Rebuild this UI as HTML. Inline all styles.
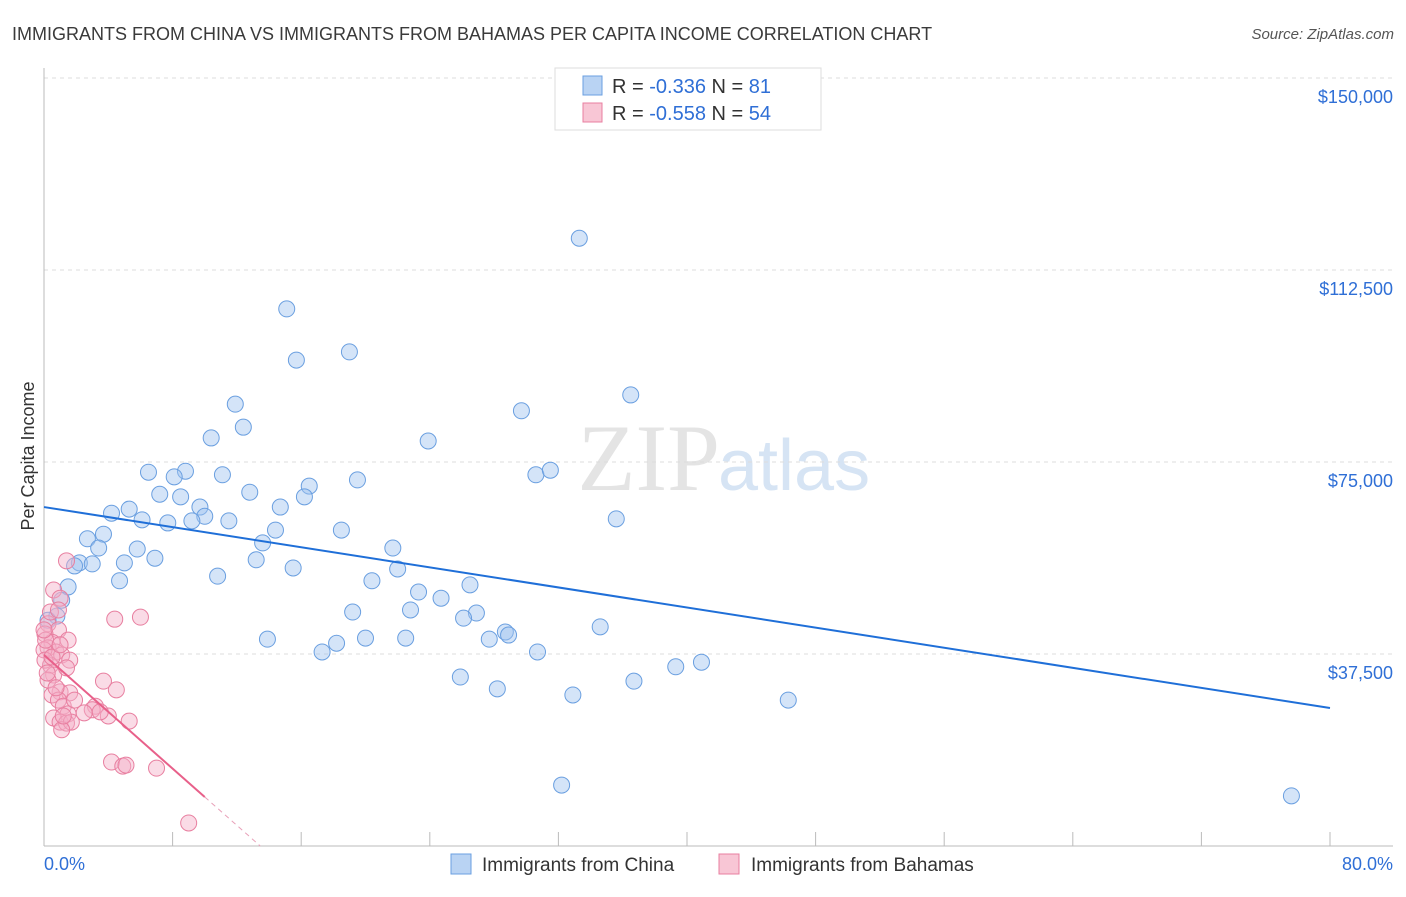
<!DOCTYPE html>
<html><head><meta charset="utf-8"><style>
body{margin:0;background:#fff;font-family:"Liberation Sans",sans-serif;}
</style></head><body>
<svg id="chart" width="1406" height="892" xmlns="http://www.w3.org/2000/svg" font-family="Liberation Sans, sans-serif">
<text x="12" y="40" font-size="18" fill="#3a3a3a">IMMIGRANTS FROM CHINA VS IMMIGRANTS FROM BAHAMAS PER CAPITA INCOME CORRELATION CHART</text>
<text x="1394" y="39" font-size="15" fill="#555" text-anchor="end" font-style="italic">Source: ZipAtlas.com</text>
<text x="720" y="490" font-size="95" fill="#e4e4e4" text-anchor="end" font-family="Liberation Serif, serif">ZIP</text>
<text x="718" y="490" font-size="72" fill="#d6e4f4">atlas</text>
<text transform="translate(34,456) rotate(-90)" font-size="18" fill="#333" text-anchor="middle">Per Capita Income</text>
<g id="grid"></g>
<g id="marks"></g>
<g>
<rect x="555" y="68" width="266" height="62" fill="#fff" stroke="#ddd"/>
<rect x="583" y="76" width="19" height="19" fill="#b9d3f3" stroke="#6a9fe0"/>
<rect x="583" y="103" width="19" height="19" fill="#f8c6d5" stroke="#e87fa0"/>
<text x="612" y="93" font-size="20" fill="#333">R = <tspan fill="#2f6fd6">-0.336</tspan>   N = <tspan fill="#2f6fd6"> 81</tspan></text>
<text x="612" y="120" font-size="20" fill="#333">R = <tspan fill="#2f6fd6">-0.558</tspan>   N = <tspan fill="#2f6fd6">54</tspan></text>
</g>
<g>
<rect x="451" y="854" width="20" height="20" fill="#b9d3f3" stroke="#6a9fe0"/>
<text x="482" y="871" font-size="19" fill="#333">Immigrants from China</text>
<rect x="719" y="854" width="20" height="20" fill="#f8c6d5" stroke="#e87fa0"/>
<text x="751" y="871" font-size="19" fill="#333">Immigrants from Bahamas</text>
</g>
</svg>
<script>
const yTicks=[37500,75000,112500,150000];
const yTickLabels=["$37,500","$75,000","$112,500","$150,000"];
const xTickLabels=["0.0%","80.0%"];
const chinaX=[33.3,15.1,19.0,15.7,36.5,11.9,29.7,12.4,10.4,23.9,6.5,8.8,8.1,11.1,19.5,30.6,31.5,16.5,12.8,7.2,8.5,16.2,9.7,5.3,4.2,14.7,10.0,6.1,9.2,7.7,11.5,35.6,14.4,18.5,3.7,2.7,13.6,3.4,5.8,21.7,6.9,13.2,2.2,3.0,5.0,1.9,15.5,22.0,10.8,4.7,20.4,26.5,1.5,23.3,1.1,24.7,22.8,19.2,26.9,26.1,0.8,34.6,28.7,28.9,27.7,13.9,18.2,20.0,22.5,30.7,17.3,40.9,39.3,25.9,36.7,28.2,32.9,46.3,32.2,77.6,0.25];
const chinaY=[118700,104900,96500,94900,88100,86300,85000,81800,79700,79100,73000,73200,72100,72500,71500,72500,73400,70300,69100,68700,68200,68200,66200,65800,65000,66200,64400,63700,63500,63100,63500,63900,61700,61700,60900,60000,59200,58200,58000,58200,56200,55900,55300,55100,55300,54700,54300,54100,52700,51800,51800,51000,50600,49600,48000,48400,46100,45700,45500,44500,44900,42800,41800,41200,40400,40400,39600,40600,40600,37900,37900,35900,35000,33000,32200,30700,29500,28500,11900,9800,44100];
const bahamasX=[1.4,0.6,1.0,6.0,4.4,0.25,0.9,0.06,1.5,0.5,0.25,0.75,1.1,0.0,1.6,0.4,0.6,3.7,4.5,1.0,1.6,0.5,0.9,3.2,3.0,1.2,1.5,0.6,4.0,5.3,1.0,1.4,1.7,1.1,4.2,4.9,5.1,7.0,9.0,0.1,0.4,0.06,0.25,0.75,1.2,0.9,0.0,1.4,1.9,2.5,3.5,0.5,0.2,1.0];
const bahamasY=[55700,50000,48400,44700,44300,43400,42200,41400,40200,39800,38700,37900,37300,38300,36300,35300,33400,32200,30500,30100,29900,29500,28500,27300,26600,27300,25800,25000,25400,24400,24200,24000,24200,22700,16400,15600,15800,15200,4500,40200,45700,36300,32400,30900,25400,46100,42200,34800,28500,26000,26200,36900,33800,39300];
const chinaTrend=[66200,26950];
const bahamasTrend=[37300,9570];
const bahamasTrendSolidEnd=10.0;
const X0=44,X1=1330,Y0=846,PPY=192/37500;
const sx=v=>X0+v/80*(X1-X0);
const sy=v=>Y0-v*PPY;
const NS="http://www.w3.org/2000/svg";
function mk(t,a,p){const e=document.createElementNS(NS,t);for(const k in a)e.setAttribute(k,a[k]);p.appendChild(e);return e;}
const grid=document.getElementById('grid'),marks=document.getElementById('marks');
yTicks.forEach((v,i)=>{
 const l=mk('line',{x1:44,x2:1393,y1:sy(v),y2:sy(v),stroke:'#ddd','stroke-dasharray':'4,4'},grid);
 
 
 const t=mk('text',{x:1393,y:sy(v)+25,'font-size':18,fill:'#2f6fd6','text-anchor':'end'},grid);
 t.textContent=yTickLabels[i];
 
 
});
const ax=mk('line',{x1:44,x2:1393,y1:846,y2:846,stroke:'#bbb'},grid);


const ay=mk('line',{x1:44,x2:44,y1:68,y2:846,stroke:'#bbb'},grid);


for(let i=0;i<=10;i++){const t=mk('line',{x1:sx(i*8),x2:sx(i*8),y1:832,y2:846,stroke:'#bbb'},grid);
 
 }
[[0,'start',44],[80,'end',1393]].forEach((d,i)=>{const t=mk('text',{x:d[2],y:870,'font-size':18,fill:'#2f6fd6','text-anchor':d[1]},grid);t.textContent=xTickLabels[i];
 
 });
chinaX.forEach((x,i)=>{const c=mk('circle',{cx:sx(x),cy:sy(chinaY[i]),r:8,fill:'rgba(160,196,240,0.45)',stroke:'#6a9fe0','stroke-width':1},marks);
 
 });
bahamasX.forEach((x,i)=>{const c=mk('circle',{cx:sx(x),cy:sy(bahamasY[i]),r:8,fill:'rgba(244,176,200,0.45)',stroke:'#e87fa0','stroke-width':1},marks);
 
 });
const tl=mk('line',{x1:sx(0),y1:sy(chinaTrend[0]),x2:sx(80),y2:sy(chinaTrend[1]),stroke:'#1f6fd8','stroke-width':2},marks);


const slope=(bahamasTrend[1]-bahamasTrend[0])/bahamasTrendSolidEnd;
const zeroX=-bahamasTrend[0]/slope;
const pl=mk('line',{x1:sx(0),y1:sy(bahamasTrend[0]),x2:sx(bahamasTrendSolidEnd),y2:sy(bahamasTrend[1]),stroke:'#e8608a','stroke-width':2},marks);


const pd=mk('line',{x1:sx(bahamasTrendSolidEnd),y1:sy(bahamasTrend[1]),x2:sx(zeroX),y2:sy(0),stroke:'#e8a0b8','stroke-width':1,'stroke-dasharray':'5,4'},marks);


</script>
</body></html>
